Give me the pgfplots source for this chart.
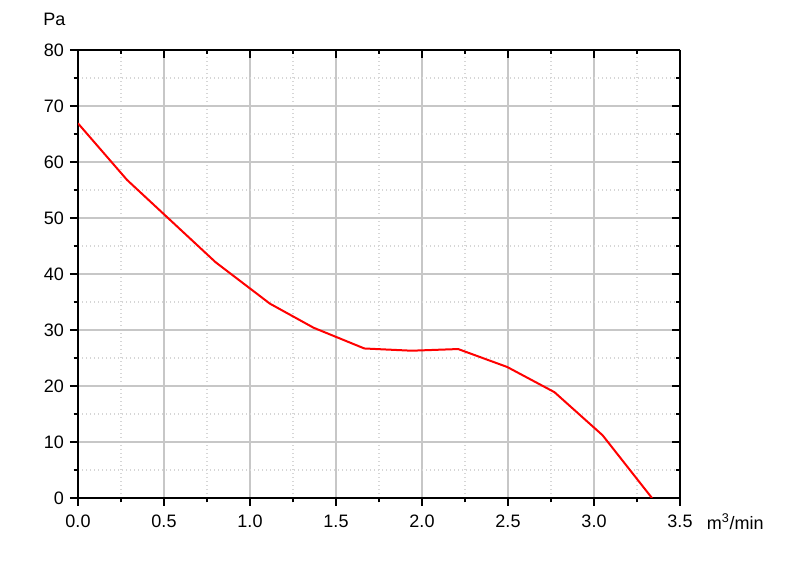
\documentclass[border=0pt]{standalone}
\usepackage{fontspec}
\setmainfont{Liberation Sans}
\usepackage{pgfplots}
\pgfplotsset{compat=1.18}
\begin{document}
\begin{tikzpicture}
\path[use as bounding box] (0,0) rectangle (600pt,431.25pt);
\pgfplotsset{common/.style={
  at={(58.5pt,57.75pt)}, anchor=south west, scale only axis,
  width=451.5pt, height=336pt,
  xmin=0, xmax=3.5, ymin=0, ymax=80,
  xtick={0,0.5,1,1.5,2,2.5,3,3.5}, ytick={0,10,20,30,40,50,60,70,80},
  minor x tick num=1, minor y tick num=1,
  axis line style={-, line width=1.2pt, black},
  major tick length=6pt, minor tick length=3.2pt,
  tick style={black, line width=1.1pt},
  /pgf/number format/assume math mode=true,
  tick label style={font=\fontsize{13.5}{15}\selectfont},
}}
\begin{axis}[common,
  grid=both,
  major grid style={black!22, line width=1pt},
  minor grid style={black!16, dash pattern=on 1pt off 2pt, line width=0.8pt},
  axis x line*=bottom, axis y line*=left, tick align=outside,
  xticklabel style={yshift=-3pt, /pgf/number format/.cd, fixed, fixed zerofill, precision=1},
  yticklabel style={xshift=-1pt},
]
\addplot[red, line width=1.5pt] coordinates {
(0,66.9) (0.285,56.8) (0.80,42.1) (1.116,34.7) (1.37,30.4) (1.665,26.7)
(1.94,26.3) (2.21,26.6) (2.495,23.4) (2.77,18.9) (3.05,11.2) (3.337,0)
};
\end{axis}
\begin{axis}[common,
  axis x line*=top, axis y line*=right, tick align=inside,
  xticklabels={}, yticklabels={},
]
\end{axis}
\node[anchor=west, inner sep=0pt, font=\fontsize{13.5}{15}\selectfont] at (32.25pt,417pt) {Pa};
\node[anchor=west, inner sep=0pt, font=\fontsize{13.5}{15}\selectfont] at (530pt,39.75pt) {m\textsuperscript{3}/min};
\end{tikzpicture}
\end{document}
